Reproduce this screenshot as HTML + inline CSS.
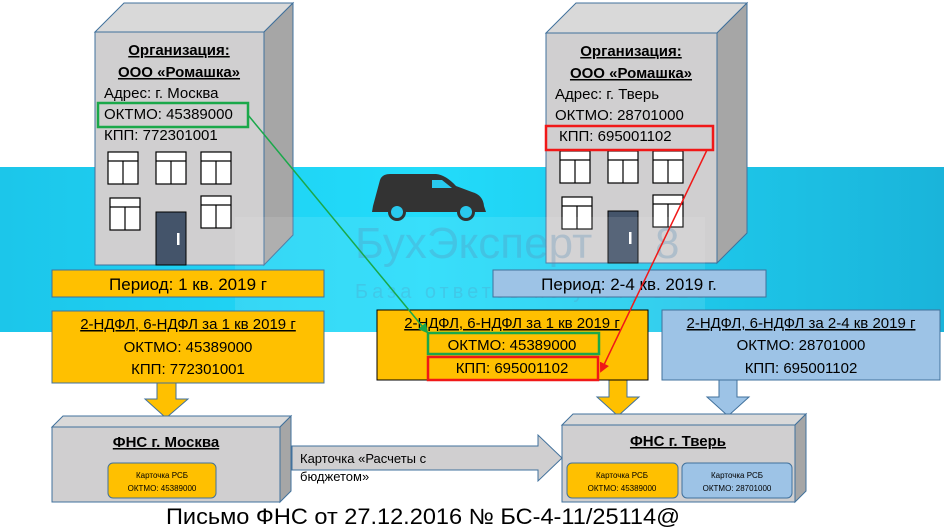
<!DOCTYPE html>
<html><head><meta charset="utf-8"><style>
body{margin:0;width:944px;height:527px;overflow:hidden;background:#fff;font-family:"Liberation Sans",sans-serif}
</style></head><body>
<svg width="944" height="527" xmlns="http://www.w3.org/2000/svg" font-family="Liberation Sans, sans-serif">
<defs>
<linearGradient id="bg" x1="0" x2="1" y1="0" y2="0">
<stop offset="0" stop-color="#1cc6ea"/><stop offset="0.45" stop-color="#22dcfb"/><stop offset="1" stop-color="#1ab4da"/></linearGradient>
<marker id="ag" markerWidth="10" markerHeight="10" refX="8" refY="5" orient="auto" markerUnits="userSpaceOnUse"><path d="M0,0 L10,5 L0,10 z" fill="#1aa84a"/></marker>
<marker id="ar" markerWidth="10" markerHeight="10" refX="8" refY="5" orient="auto" markerUnits="userSpaceOnUse"><path d="M0,0 L10,5 L0,10 z" fill="#f01818"/></marker>
</defs>
<rect x="0" y="167" width="944" height="165" fill="url(#bg)"/>

<!-- left building -->
<polygon points="95,32 124,3 293,3 264,32" fill="#d9d9d9" stroke="#41719c"/>
<polygon points="264,32 293,3 293,235 264,265" fill="#a6a6a6" stroke="#41719c"/>
<rect x="95" y="32" width="169" height="233" fill="#d0cfd0" stroke="#41719c"/>
<g fill="#fff" stroke="#000" stroke-width="1.2">
<rect x="108" y="152" width="30" height="32"/><rect x="156" y="152" width="30" height="32"/><rect x="201" y="152" width="30" height="32"/>
<rect x="110" y="198" width="30" height="32"/><rect x="201" y="196" width="30" height="32"/>
<path d="M108,161h30M123,161v23M156,161h30M171,161v23M201,161h30M216,161v23M110,207h30M125,207v23M201,205h30M216,205v23"/>
</g>
<rect x="156" y="212" width="30" height="53" fill="#44546a" stroke="#000"/>
<rect x="177" y="233" width="2.5" height="12" fill="#fff"/>
<g font-size="15" fill="#000">
<text x="179" y="55" text-anchor="middle" font-weight="bold" text-decoration="underline">Организация:</text>
<text x="179" y="77" text-anchor="middle" font-weight="bold" text-decoration="underline">ООО «Ромашка»</text>
<text x="104" y="98">Адрес: г. Москва</text>
<text x="104" y="119">ОКТМО: 45389000</text>
<text x="104" y="140">КПП: 772301001</text>
</g>
<rect x="98" y="103" width="150" height="24" fill="none" stroke="#1aa84a" stroke-width="2.5"/>

<!-- right building -->
<polygon points="546,33 576,3 747,3 717,33" fill="#d9d9d9" stroke="#41719c"/>
<polygon points="717,33 747,3 747,233 717,263" fill="#a6a6a6" stroke="#41719c"/>
<rect x="546" y="33" width="171" height="230" fill="#d0cfd0" stroke="#41719c"/>
<g fill="#fff" stroke="#000" stroke-width="1.2">
<rect x="560" y="151" width="30" height="32"/><rect x="608" y="151" width="30" height="32"/><rect x="653" y="151" width="30" height="32"/>
<rect x="562" y="197" width="30" height="32"/><rect x="653" y="195" width="30" height="32"/>
<path d="M560,160h30M575,160v23M608,160h30M623,160v23M653,160h30M668,160v23M562,206h30M577,206v23M653,204h30M668,204v23"/>
</g>
<rect x="608" y="211" width="30" height="52" fill="#44546a" stroke="#000"/>
<rect x="629" y="232" width="2.5" height="12" fill="#fff"/>
<g font-size="15" fill="#000">
<text x="631" y="56" text-anchor="middle" font-weight="bold" text-decoration="underline">Организация:</text>
<text x="631" y="78" text-anchor="middle" font-weight="bold" text-decoration="underline">ООО «Ромашка»</text>
<text x="555" y="99">Адрес: г. Тверь</text>
<text x="555" y="120">ОКТМО: 28701000</text>
<text x="559" y="141">КПП: 695001102</text>
</g>
<rect x="546" y="126" width="167" height="24" fill="none" stroke="#f01818" stroke-width="2.5"/>

<!-- watermark -->
<rect x="235" y="217" width="470" height="115" fill="#fff" opacity="0.1"/>
<text x="355" y="258" font-size="44" fill="#5a8fb8" opacity="0.3">БухЭксперт</text>
<text x="655" y="258" font-size="44" fill="#5a8fb8" opacity="0.3">8</text>
<text x="355" y="298" font-size="20" fill="#5a8fb8" opacity="0.25" letter-spacing="4">База ответов по учету в 1С</text>

<!-- van -->
<path d="M380,180 Q382,174 390,174 L436,174 Q446,175 456,186 L472,192 Q483,195 484,206 L486,212 L372,212 L373,206 Z" fill="#333"/>
<path d="M432,180 L442,180 L452,188 L432,188 Z" fill="#29c9ee"/>
<circle cx="397" cy="212" r="9" fill="#333"/><circle cx="397" cy="212" r="6" fill="#29c9ee"/>
<circle cx="466" cy="212" r="9" fill="#333"/><circle cx="466" cy="212" r="6" fill="#29c9ee"/>

<!-- period -->
<rect x="52" y="270" width="272" height="27" fill="#ffc000" stroke="#41719c"/>
<text x="188" y="290" font-size="17" text-anchor="middle">Период: 1 кв. 2019 г</text>
<rect x="493" y="270" width="273" height="27" fill="#9dc3e6" stroke="#41719c"/>
<text x="629" y="290" font-size="17" text-anchor="middle">Период: 2-4 кв. 2019 г.</text>

<!-- down arrows -->
<polygon points="157,380 176,380 176,399 188,399 166,418 145,399 157,399" fill="#ffc000" stroke="#41719c"/>
<polygon points="609,378 627,378 627,397 639,397 618,416 597,397 609,397" fill="#ffc000" stroke="#41719c"/>
<polygon points="719,378 737,378 737,397 749,397 728,416 707,397 719,397" fill="#9dc3e6" stroke="#41719c"/>

<!-- report boxes -->
<rect x="52" y="311" width="272" height="72" fill="#ffc000" stroke="#41719c"/>
<g font-size="15" text-anchor="middle">
<text x="188" y="329" text-decoration="underline">2-НДФЛ, 6-НДФЛ за 1 кв 2019 г</text>
<text x="188" y="352">ОКТМО: 45389000</text>
<text x="188" y="374">КПП: 772301001</text>
</g>
<rect x="377" y="310" width="271" height="70" fill="#ffc000" stroke="#000"/>
<g font-size="15" text-anchor="middle">
<text x="512" y="328" text-decoration="underline">2-НДФЛ, 6-НДФЛ за 1 кв 2019 г</text>
<text x="512" y="350">ОКТМО: 45389000</text>
<text x="512" y="373">КПП: 695001102</text>
</g>
<rect x="428" y="333" width="171" height="21" fill="none" stroke="#1aa84a" stroke-width="2.5"/>
<rect x="428" y="357" width="170" height="23" fill="none" stroke="#f01818" stroke-width="2.5"/>
<rect x="662" y="310" width="278" height="70" fill="#9dc3e6" stroke="#41719c"/>
<g font-size="15" text-anchor="middle">
<text x="801" y="328" text-decoration="underline">2-НДФЛ, 6-НДФЛ за 2-4 кв 2019 г</text>
<text x="801" y="350">ОКТМО: 28701000</text>
<text x="801" y="373">КПП: 695001102</text>
</g>

<!-- connectors -->
<line x1="248" y1="115" x2="427" y2="332" stroke="#1aa84a" stroke-width="1.5" marker-end="url(#ag)"/>
<line x1="707" y1="150" x2="601" y2="371" stroke="#f01818" stroke-width="1.5" marker-end="url(#ar)"/>

<!-- FNS boxes -->
<polygon points="52,427 63,416 291,416 280,427" fill="#d9d9d9" stroke="#41719c"/>
<polygon points="280,427 291,416 291,491 280,502" fill="#a6a6a6" stroke="#41719c"/>
<rect x="52" y="427" width="228" height="75" fill="#d0cfd0" stroke="#41719c"/>
<text x="166" y="447" font-size="15" font-weight="bold" text-anchor="middle" text-decoration="underline">ФНС г. Москва</text>
<rect x="108" y="463" width="108" height="35" rx="5" fill="#ffc000" stroke="#41719c"/>
<text x="162" y="478" font-size="8" text-anchor="middle">Карточка РСБ</text>
<text x="162" y="491" font-size="8" text-anchor="middle">ОКТМО: 45389000</text>

<polygon points="562,425 573,414 806,414 795,425" fill="#d9d9d9" stroke="#41719c"/>
<polygon points="795,425 806,414 806,491 795,502" fill="#a6a6a6" stroke="#41719c"/>
<rect x="562" y="425" width="233" height="77" fill="#d0cfd0" stroke="#41719c"/>
<text x="678" y="446" font-size="15" font-weight="bold" text-anchor="middle" text-decoration="underline">ФНС г. Тверь</text>
<rect x="567" y="463" width="111" height="35" rx="5" fill="#ffc000" stroke="#41719c"/>
<text x="622" y="478" font-size="8" text-anchor="middle">Карточка РСБ</text>
<text x="622" y="491" font-size="8" text-anchor="middle">ОКТМО: 45389000</text>
<rect x="682" y="463" width="110" height="35" rx="5" fill="#9dc3e6" stroke="#41719c"/>
<text x="737" y="478" font-size="8" text-anchor="middle">Карточка РСБ</text>
<text x="737" y="491" font-size="8" text-anchor="middle">ОКТМО: 28701000</text>

<!-- big arrow -->
<polygon points="292,446 538,446 538,435 562,458 538,481 538,470 292,470" fill="#d0cfd0" stroke="#41719c"/>
<text x="300" y="463" font-size="13">Карточка «Расчеты с</text>
<text x="300" y="481" font-size="13">бюджетом»</text>

<text x="166" y="524" font-size="22" textLength="514" lengthAdjust="spacingAndGlyphs">Письмо ФНС от 27.12.2016 № БС-4-11/25114@</text>
</svg>
</body></html>
